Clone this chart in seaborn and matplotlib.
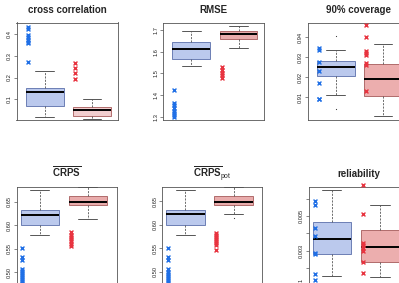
import numpy as np
import pandas as pd
import seaborn as sns
import matplotlib
matplotlib.use('Agg')
import matplotlib.pyplot as plt

# box summaries: [low whisker, q1, median, q3, high whisker]
# *_x are the crosses drawn beside each box, *_dots the small outlier dots

cc_blue_box = [0.016, 0.068, 0.131, 0.152, 0.230]
cc_red_box = [0.007, 0.023, 0.049, 0.065, 0.099]
cc_blue_x = [0.432, 0.425, 0.396, 0.386, 0.375, 0.365, 0.358, 0.271]
cc_red_x = [0.266, 0.243, 0.220, 0.193]

rmse_blue_box = [1.534, 1.568, 1.614, 1.643, 1.697]
rmse_red_box = [1.617, 1.659, 1.682, 1.695, 1.720]
rmse_blue_x = [1.422, 1.364, 1.352, 1.340, 1.328, 1.318, 1.308, 1.298]
rmse_red_x = [1.529, 1.516, 1.503, 1.491, 1.479]

cov_blue_box = [0.9110, 0.9203, 0.9248, 0.9282, 0.9333]
cov_red_box = [0.9005, 0.9105, 0.9188, 0.9263, 0.9363]
cov_blue_dots = [0.9403, 0.9042]
cov_blue_x = [0.9347, 0.9333, 0.9275, 0.9230, 0.9168, 0.9092, 0.9088]
cov_red_x = [0.9460, 0.9398, 0.9332, 0.9322, 0.9310, 0.9272, 0.9262, 0.9132]

crps_blue_box = [0.579, 0.600, 0.6225, 0.633, 0.674]
crps_red_box = [0.614, 0.6424, 0.6487, 0.6606, 0.681]
crps_blue_x = [0.551, 0.533, 0.526, 0.508, 0.503, 0.498, 0.494, 0.490, 0.486, 0.482, 0.478, 0.474]
crps_red_x = [0.585, 0.580, 0.575, 0.570, 0.566, 0.561, 0.555]

pot_blue_box = [0.5785, 0.5997, 0.622, 0.631, 0.673]
pot_red_box = [0.622, 0.6423, 0.6486, 0.6613, 0.680]
pot_red_dots = [0.6135]
pot_blue_x = [0.550, 0.532, 0.525, 0.507, 0.499, 0.495, 0.491, 0.487, 0.483, 0.479, 0.475]
pot_red_x = [0.583, 0.578, 0.574, 0.570, 0.566, 0.562, 0.558, 0.547]

rel_blue_box = [0.00154, 0.00280, 0.00368, 0.00465, 0.00651]
rel_red_box = [0.00146, 0.00233, 0.00319, 0.00417, 0.00566]
rel_blue_x = [0.00585, 0.00565, 0.00432, 0.00386, 0.00285, 0.00277, 0.00164, 0.00128]
rel_red_x = [0.0068, 0.0051, 0.00343, 0.0033, 0.00314, 0.00296, 0.00233, 0.0017]

titles = ['cross correlation', 'RMSE', '90% coverage',
          r'$\overline{\mathbf{CRPS}}$', r'$\overline{\mathbf{CRPS}}_{\mathrm{pot}}$', 'reliability']

W, H = 399, 283

sns.set_theme(style='white')
plt.rcParams['font.family'] = ['Liberation Sans', 'DejaVu Sans']
plt.rcParams['mathtext.fontset'] = 'custom'
plt.rcParams['mathtext.rm'] = 'Liberation Sans'
plt.rcParams['mathtext.bf'] = 'Liberation Sans:bold'
plt.rcParams['mathtext.it'] = 'Liberation Sans:italic'

BLUE_FILL = '#b3c5f5'
BLUE_EDGE = '#5a6eaa'
RED_EDGE = '#a65a5a'
BLUE_X = '#1f6fe6'
RED_X = '#e8333f'
GREY = '#555555'

fig = plt.figure(figsize=(W / 100, H / 100), dpi=100)


def panel(rect, xlim, ylim, title, blue_box, red_box, blue_x, red_x, red_fill,
          yticks, ylabels, blue_dots=(), red_dots=()):
    left, top, width, height = rect
    ax = fig.add_axes([left / W, 1 - (top + height) / H, width / W, height / H])
    df = pd.DataFrame({'group': ['a'] * len(blue_box) + ['b'] * len(red_box),
                       'value': blue_box + red_box})
    sns.boxplot(data=df, x='group', y='value', hue='group', palette=[BLUE_FILL, red_fill],
                whis=(0, 100), width=0.8, showfliers=False, legend=False, linewidth=0.6, ax=ax,
                medianprops=dict(color='black', linewidth=1.4),
                whiskerprops=dict(color=GREY, linestyle=(0, (2.5, 1.5)), linewidth=0.6),
                capprops=dict(color=GREY, linewidth=0.7))
    for patch, ec in zip(ax.patches, [BLUE_EDGE, RED_EDGE]):
        patch.set_edgecolor(ec)
    ax.scatter(np.full(len(blue_x), -0.36), blue_x, marker='x', s=8, c=BLUE_X,
               linewidths=1.0, clip_on=False, zorder=5)
    ax.scatter(np.full(len(red_x), 0.64), red_x, marker='x', s=8, c=RED_X,
               linewidths=1.0, clip_on=False, zorder=5)
    if len(blue_dots):
        ax.scatter(np.zeros(len(blue_dots)), blue_dots, marker='o', s=0.7, c='#333333', lw=0)
    if len(red_dots):
        ax.scatter(np.ones(len(red_dots)), red_dots, marker='o', s=0.7, c='#333333', lw=0)
    ax.set_xlim(*xlim)
    ax.set_ylim(*ylim)
    ax.set_xticks([])
    ax.set_xlabel('')
    ax.set_ylabel('')
    ax.set_yticks(yticks)
    ax.set_yticklabels(ylabels)
    ax.tick_params(axis='y', left=True, direction='out', length=2.4, width=0.5,
                   color=GREY, pad=1, labelsize=4.1, labelrotation=90, labelcolor='#222222')
    for lab in ax.get_yticklabels():
        lab.set_va('center')
    for sp in ax.spines.values():
        sp.set_visible(True)
        sp.set_color(GREY)
        sp.set_linewidth(0.6)
    ax.set_title(title, fontsize=7, fontweight='bold', pad=7.0)
    return ax


top_xlim = (-0.60, 1.54)
bot_xlim = (-0.48, 1.60)
top_rect_y, top_h = 22.5, 97.5
bot_rect_y, bot_h = 186.7, 103.3

panel((16.5, top_rect_y, 101, top_h), top_xlim, (0.0035, 0.4545), titles[0],
      cc_blue_box, cc_red_box, cc_blue_x, cc_red_x, '#f8c8ca',
      [0.1, 0.2, 0.3, 0.4], ['0.1', '0.2', '0.3', '0.4'])
panel((163, top_rect_y, 101, top_h), top_xlim, (1.285, 1.7346), titles[1],
      rmse_blue_box, rmse_red_box, rmse_blue_x, rmse_red_x, '#f3a2a2',
      [1.3, 1.4, 1.5, 1.6, 1.7], ['1.3', '1.4', '1.5', '1.6', '1.7'])
panel((307.5, top_rect_y, 101, top_h), top_xlim, (0.8985, 0.94725), titles[2],
      cov_blue_box, cov_red_box, cov_blue_x, cov_red_x, '#f6a4a4',
      [0.91, 0.92, 0.93, 0.94], ['0.91', '0.92', '0.93', '0.94'], blue_dots=cov_blue_dots)
panel((16.7, bot_rect_y, 100, bot_h), bot_xlim, (0.463, 0.6813), titles[3],
      crps_blue_box, crps_red_box, crps_blue_x, crps_red_x, '#f3a2a2',
      [0.50, 0.55, 0.60, 0.65], ['0.50', '0.55', '0.60', '0.65'])
panel((162.4, bot_rect_y, 100, bot_h), bot_xlim, (0.4618, 0.6805), titles[4],
      pot_blue_box, pot_red_box, pot_blue_x, pot_red_x, '#f3a2a2',
      [0.50, 0.55, 0.60, 0.65], ['0.50', '0.55', '0.60', '0.65'], red_dots=pot_red_dots)
panel((308.8, bot_rect_y, 100, bot_h), bot_xlim, (0.00071, 0.0067), titles[5],
      rel_blue_box, rel_red_box, rel_blue_x, rel_red_x, '#f6a4a4',
      [0.001, 0.002, 0.003, 0.004, 0.005, 0.006], ['0.001', '', '0.003', '', '0.005', ''])

fig.savefig('out.png', dpi=100)
